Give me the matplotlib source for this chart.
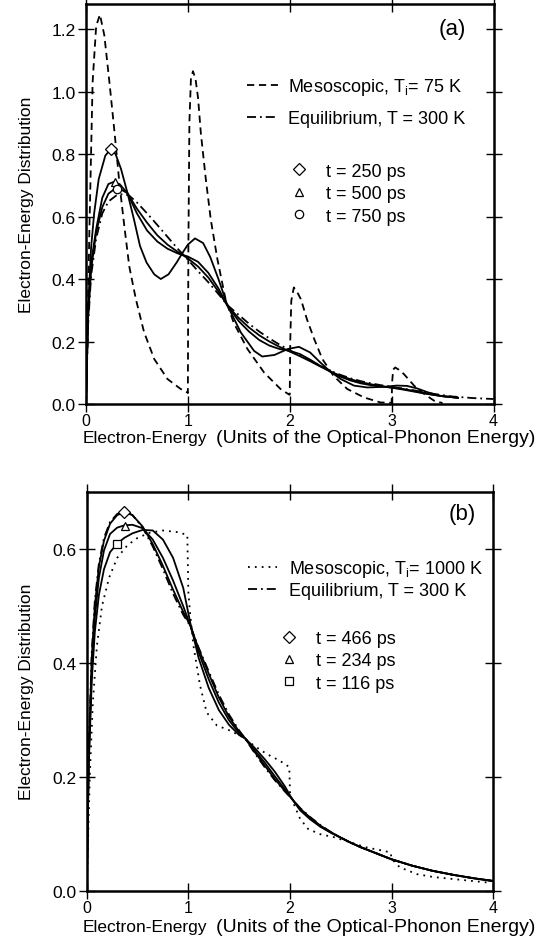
import matplotlib.pyplot as plt
from matplotlib.lines import Line2D

plt.rcParams['font.family'] = ['Liberation Sans', 'DejaVu Sans']
plt.rcParams['mathtext.fontset'] = 'custom'
plt.rcParams['mathtext.rm'] = 'Liberation Sans'

# ---- panel (a) data ----
E_meso_a = [0, 0.033, 0.065, 0.1, 0.137, 0.18, 0.23, 0.28, 0.33, 0.376, 0.425, 0.49, 0.57, 0.67, 0.80, 0.93, 0.995,
            1.0, 1.005, 1.015, 1.03, 1.05, 1.075, 1.1, 1.127, 1.176, 1.225, 1.29, 1.37, 1.45, 1.585, 1.75, 1.91, 1.995,
            2.0, 2.005, 2.015, 2.04, 2.07, 2.11, 2.17, 2.24, 2.32, 2.43, 2.565, 2.73, 2.89, 2.995,
            3.0, 3.005, 3.015, 3.035, 3.07, 3.12, 3.22, 3.32, 3.415, 3.5]
f_meso_a = [0, 0.55, 1.03, 1.21, 1.246, 1.18, 1.03, 0.87, 0.70, 0.57, 0.44, 0.335, 0.23, 0.144, 0.08, 0.048, 0.037,
            0.035, 0.5, 0.9, 1.04, 1.065, 1.04, 0.98, 0.868, 0.72, 0.59, 0.463, 0.335, 0.26, 0.176, 0.10, 0.048, 0.03,
            0.03, 0.2, 0.33, 0.373, 0.36, 0.335, 0.27, 0.208, 0.144, 0.09, 0.048, 0.021, 0.005, 0.004,
            0.004, 0.07, 0.11, 0.117, 0.11, 0.096, 0.059, 0.032, 0.011, 0.003]

E_eq_a = [0, 0.02, 0.05, 0.1, 0.16, 0.22, 0.3, 0.36, 0.42, 0.5, 0.6, 0.7, 0.8, 0.9, 1.0, 1.1, 1.2, 1.3, 1.39, 1.5,
          1.6, 1.7, 1.8, 1.9, 2.0, 2.1, 2.2, 2.3, 2.4, 2.5, 2.6, 2.7, 2.8, 2.9, 3.0, 3.2, 3.4, 3.6, 3.8, 4.0]
f_eq_a = [0, 0.25, 0.41, 0.53, 0.61, 0.648, 0.668, 0.672, 0.668, 0.645, 0.61, 0.573, 0.535, 0.497, 0.462, 0.425,
          0.39, 0.352, 0.316, 0.285, 0.257, 0.232, 0.21, 0.19, 0.172, 0.155, 0.14, 0.123, 0.106, 0.093, 0.082,
          0.073, 0.066, 0.06, 0.055, 0.045, 0.033, 0.024, 0.019, 0.016]

E_250 = [0, 0.02, 0.05, 0.08, 0.125, 0.19, 0.244, 0.29, 0.344, 0.406, 0.47, 0.53, 0.594, 0.67, 0.734, 0.81, 0.89,
         0.95, 1.0, 1.07, 1.15, 1.22, 1.3, 1.39, 1.52, 1.65, 1.73, 1.85, 1.98, 2.09, 2.2, 2.3, 2.39, 2.5, 2.63,
         2.76, 2.92, 3.05, 3.15, 3.25, 3.35, 3.48, 3.65]
f_250 = [0, 0.3, 0.5, 0.61, 0.72, 0.795, 0.816, 0.8, 0.752, 0.677, 0.592, 0.506, 0.453, 0.415, 0.40, 0.415, 0.453,
         0.485, 0.51, 0.53, 0.515, 0.47, 0.4, 0.314, 0.229, 0.17, 0.152, 0.157, 0.176, 0.183, 0.165, 0.133, 0.106,
         0.08, 0.059, 0.053, 0.055, 0.059, 0.058, 0.05, 0.038, 0.026, 0.02]

E_t_a = [0, 0.02, 0.05, 0.1, 0.16, 0.22, 0.28, 0.34, 0.406, 0.5, 0.6, 0.7, 0.8, 0.9, 1.0, 1.1, 1.2, 1.3, 1.39,
         1.5, 1.6, 1.7, 1.8, 1.9, 2.0, 2.1, 2.2, 2.3, 2.4, 2.5, 2.6, 2.7, 2.8, 2.9, 3.0, 3.1, 3.2, 3.3, 3.4,
         3.5, 3.65]
f_500 = [0, 0.28, 0.45, 0.56, 0.66, 0.704, 0.712, 0.70, 0.675, 0.61, 0.555, 0.52, 0.497, 0.482, 0.472, 0.455,
         0.42, 0.37, 0.314, 0.265, 0.232, 0.205, 0.187, 0.176, 0.17, 0.16, 0.142, 0.122, 0.103, 0.087, 0.075,
         0.066, 0.06, 0.056, 0.053, 0.049, 0.043, 0.036, 0.03, 0.025, 0.02]
f_750 = [0, 0.27, 0.43, 0.55, 0.63, 0.673, 0.688, 0.687, 0.675, 0.625, 0.58, 0.54, 0.51, 0.487, 0.466, 0.44,
         0.405, 0.36, 0.314, 0.275, 0.245, 0.22, 0.2, 0.183, 0.168, 0.153, 0.137, 0.12, 0.104, 0.09, 0.079,
         0.07, 0.063, 0.057, 0.052, 0.047, 0.041, 0.035, 0.03, 0.025, 0.02]

mark_E_a = [0.244, 0.28, 0.30]
mark_f_a = [0.816, 0.712, 0.688]

# ---- panel (b) data ----
E_meso_b = [0, 0.03, 0.06, 0.1, 0.15, 0.22, 0.3, 0.4, 0.5, 0.62, 0.75, 0.9, 0.99, 1.0, 1.016, 1.05, 1.115, 1.18,
            1.28, 1.41, 1.54, 1.65, 1.77, 1.9, 1.993, 2.0, 2.03, 2.1, 2.18, 2.3, 2.43, 2.59, 2.75, 2.92, 2.99,
            3.0, 3.08, 3.25, 3.41, 3.74, 3.97]
f_meso_b = [0, 0.2, 0.33, 0.43, 0.5, 0.55, 0.585, 0.607, 0.62, 0.629, 0.633, 0.63, 0.625, 0.525, 0.49, 0.431,
            0.361, 0.314, 0.291, 0.282, 0.27, 0.255, 0.241, 0.229, 0.218, 0.174, 0.156, 0.127, 0.109, 0.10,
            0.095, 0.086, 0.077, 0.071, 0.068, 0.057, 0.042, 0.030, 0.025, 0.019, 0.015]

E_b = [0, 0.02, 0.05, 0.08, 0.12, 0.17, 0.23, 0.3, 0.37, 0.45, 0.55, 0.65, 0.75, 0.85, 0.95, 1.02, 1.1, 1.2,
       1.3, 1.4, 1.5, 1.56, 1.65, 1.75, 1.85, 1.95, 2.02, 2.1, 2.2, 2.3, 2.4, 2.5, 2.6, 2.7, 2.8, 2.9, 3.0, 3.2,
       3.4, 3.6, 3.8, 4.0]
f_eq_b = [0, 0.25, 0.42, 0.51, 0.575, 0.62, 0.648, 0.662, 0.667, 0.66, 0.638, 0.605, 0.565, 0.522, 0.485, 0.465,
          0.428, 0.386, 0.345, 0.31, 0.282, 0.268, 0.243, 0.218, 0.195, 0.175, 0.162, 0.146, 0.13, 0.116, 0.104,
          0.094, 0.085, 0.077, 0.07, 0.063, 0.056, 0.045, 0.036, 0.029, 0.023, 0.018]
f_466 = [0, 0.24, 0.41, 0.5, 0.57, 0.615, 0.645, 0.66, 0.665, 0.66, 0.64, 0.609, 0.571, 0.529, 0.49, 0.466,
         0.426, 0.382, 0.34, 0.306, 0.28, 0.268, 0.245, 0.221, 0.197, 0.176, 0.162, 0.145, 0.129, 0.115, 0.104,
         0.094, 0.085, 0.077, 0.07, 0.063, 0.056, 0.045, 0.036, 0.029, 0.023, 0.018]
f_234 = [0, 0.23, 0.39, 0.48, 0.55, 0.598, 0.627, 0.638, 0.642, 0.643, 0.637, 0.617, 0.585, 0.545, 0.5, 0.466,
         0.42, 0.372, 0.331, 0.3, 0.277, 0.268, 0.248, 0.226, 0.202, 0.179, 0.162, 0.144, 0.128, 0.114, 0.103,
         0.094, 0.085, 0.077, 0.07, 0.063, 0.056, 0.045, 0.036, 0.029, 0.023, 0.018]
f_116 = [0, 0.22, 0.37, 0.455, 0.52, 0.565, 0.595, 0.61, 0.62, 0.628, 0.634, 0.633, 0.617, 0.585, 0.532, 0.47,
         0.41, 0.357, 0.318, 0.292, 0.274, 0.268, 0.252, 0.232, 0.21, 0.184, 0.162, 0.142, 0.126, 0.113, 0.103,
         0.094, 0.085, 0.077, 0.07, 0.063, 0.056, 0.045, 0.036, 0.029, 0.023, 0.018]

mark_E_b = [0.37, 0.375, 0.30]
mark_f_b = [0.665, 0.641, 0.61]

xticks = [0, 1, 2, 3, 4]
yticks_a = [0.0, 0.2, 0.4, 0.6, 0.8, 1.0, 1.2]
yticks_b = [0.0, 0.2, 0.4, 0.6]

XLABEL_1 = 'Electron-Energy'
XLABEL_2 = '(Units of the Optical-Phonon Energy)'
YLABEL = 'Electron-Energy Distribution'

DASHED = (4, 2.6)
DASHDOT = (5, 2.2, 1, 2.2)
DOTTED = (1, 2.8)
LW = 1.3
FS = 12.5


def style_axes(ax, ymax, yticks):
    ax.set_xlim(0, 4)
    ax.set_ylim(0, ymax)
    ax.set_xticks(xticks)
    ax.set_yticks(yticks)
    ax.set_yticklabels([f'{v:.1f}' for v in yticks])
    ax.tick_params(direction='inout', length=11, width=1.0, top=True, right=True,
                   labelsize=FS, pad=2)
    ax.tick_params(axis='x', labelsize=11.5, pad=1)
    for sp in ax.spines.values():
        sp.set_linewidth(1.8)


def marker_legend(ax, labels, symbols, anchor):
    handles = [Line2D([], [], ls='none', marker=m, ms=6, mfc='white', mec='black', mew=0.9)
               for m in symbols]
    leg = ax.legend(handles, labels, loc='upper left', bbox_to_anchor=anchor, frameon=False,
                    fontsize=13, handlelength=1.0, handletextpad=1.0, labelspacing=0.3,
                    borderpad=0, borderaxespad=0, numpoints=1)
    return leg


def xlabel(y_px):
    fig.text(83 / 547, 1 - y_px / 945, XLABEL_1, fontsize=FS, ha='left', va='baseline')
    fig.text(216 / 547, 1 - y_px / 945, XLABEL_2, fontsize=14, ha='left', va='baseline')


fig = plt.figure(figsize=(5.47, 9.45), dpi=100)

# ---- panel (a) ----
ax1 = fig.add_axes([0.1572, 0.5714, 0.7450, 0.4233])
l_meso, = ax1.plot(E_meso_a, f_meso_a, color='black', lw=LW, ls=(0, DASHED))
l_eq, = ax1.plot(E_eq_a, f_eq_a, color='black', lw=LW, ls=(0, DASHDOT))
ax1.plot(E_250, f_250, color='black', lw=LW)
ax1.plot(E_t_a, f_500, color='black', lw=LW)
ax1.plot(E_t_a, f_750, color='black', lw=LW)
for e, f, m in zip(mark_E_a, mark_f_a, ['D', '^', 'o']):
    ax1.plot([e], [f], ls='none', marker=m, ms=6, mfc='white', mec='black', mew=0.9)
style_axes(ax1, 1.28, yticks_a)

leg1 = ax1.legend([l_meso, l_eq], ['Mesoscopic, T$_{\\rm i}$= 75 K', 'Equilibrium, T = 300 K'],
                  loc='upper left', bbox_to_anchor=(0.395, 0.82), frameon=False, fontsize=13,
                  handlelength=1.7, handletextpad=0.6, labelspacing=0.72, borderpad=0, borderaxespad=0)
ax1.add_artist(leg1)
marker_legend(ax1, ['t = 250 ps', 't = 500 ps', 't = 750 ps'], ['D', '^', 'o'], (0.5, 0.603))
ax1.text(0.90, 0.94, '(a)', transform=ax1.transAxes, fontsize=16, ha='center', va='center')

# ---- panel (b) ----
ax2 = fig.add_axes([0.1585, 0.0558, 0.7433, 0.4222])
l_meso_b, = ax2.plot(E_meso_b, f_meso_b, color='black', lw=LW, ls=(0, DOTTED))
l_eq_b, = ax2.plot(E_b, f_eq_b, color='black', lw=LW, ls=(0, DASHDOT))
ax2.plot(E_b, f_466, color='black', lw=LW)
ax2.plot(E_b, f_234, color='black', lw=LW)
ax2.plot(E_b, f_116, color='black', lw=LW)
for e, f, m in zip(mark_E_b, mark_f_b, ['D', '^', 's']):
    ax2.plot([e], [f], ls='none', marker=m, ms=6, mfc='white', mec='black', mew=0.9)
style_axes(ax2, 0.70, yticks_b)

leg2 = ax2.legend([l_meso_b, l_eq_b], ['Mesoscopic, T$_{\\rm i}$= 1000 K', 'Equilibrium, T = 300 K'],
                  loc='upper left', bbox_to_anchor=(0.397, 0.835), frameon=False, fontsize=13,
                  handlelength=1.6, handletextpad=0.65, labelspacing=0.15, borderpad=0, borderaxespad=0)
ax2.add_artist(leg2)
marker_legend(ax2, ['t = 466 ps', 't = 234 ps', 't = 116 ps'], ['D', '^', 's'], (0.475, 0.655))
ax2.text(0.923, 0.946, '(b)', transform=ax2.transAxes, fontsize=16, ha='center', va='center')

# axis labels
xlabel(443)
xlabel(932)
fig.text(27 / 547, 1 - 205 / 945, YLABEL, fontsize=FS, rotation=90, ha='center', va='center')
fig.text(27 / 547, 1 - 692 / 945, YLABEL, fontsize=FS, rotation=90, ha='center', va='center')

fig.savefig('out.png', dpi=100)
